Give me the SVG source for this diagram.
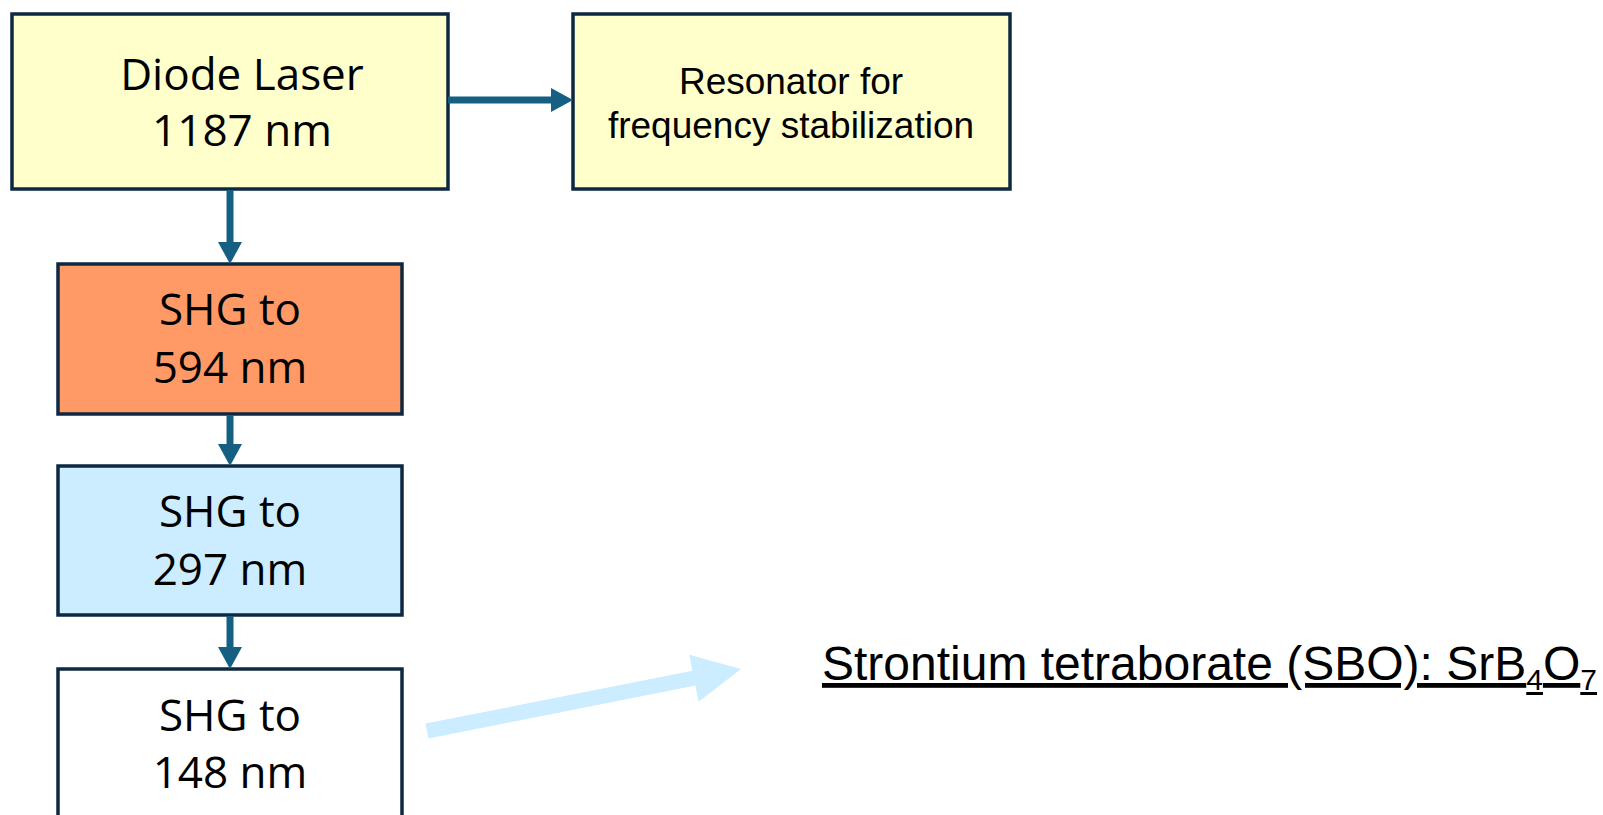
<svg xmlns="http://www.w3.org/2000/svg" width="1603" height="815" viewBox="0 0 1603 815">
<style>
.box{stroke:#0E2841;stroke-width:3.5}
.t{font-family:"Open Sans","Noto Sans",sans-serif;font-size:44px;fill:#000;text-anchor:middle}
.r{font-family:"Liberation Sans",Arial,sans-serif;font-size:37px;fill:#000;text-anchor:middle}
.conn{stroke:#156082;stroke-width:7;fill:none}
</style>
<defs>
<marker id="ah" markerUnits="userSpaceOnUse" viewBox="0 0 22 24" refX="0" refY="12" markerWidth="22" markerHeight="24" orient="auto">
<path d="M0,0 L22,12 L0,24 z" fill="#156082"/>
</marker>
</defs>
<rect width="1603" height="815" fill="#fff"/>
<g id="diode">
<rect class="box" x="12" y="14" width="436" height="175" fill="#FFFFCC"/>
<text class="t" x="242" y="90">Diode Laser</text>
<text class="t" x="242" y="146">1187 nm</text>
</g>
<g id="resonator">
<rect class="box" x="573" y="14" width="437" height="175" fill="#FFFFCC"/>
<text class="r" x="791" y="94">Resonator for</text>
<text class="r" x="791" y="138">frequency stabilization</text>
</g>
<g id="shg594">
<rect class="box" x="58" y="264" width="344" height="150" fill="#FF9966"/>
<text class="t" x="230" y="325">SHG to</text>
<text class="t" x="230" y="383">594 nm</text>
</g>
<g id="shg297">
<rect class="box" x="58" y="466" width="344" height="149" fill="#CCECFF"/>
<text class="t" x="230" y="527">SHG to</text>
<text class="t" x="230" y="585">297 nm</text>
</g>
<g id="shg148">
<rect class="box" x="58" y="669" width="344" height="200" fill="#FFFFFF"/>
<text class="t" x="230" y="731">SHG to</text>
<text class="t" x="230" y="788">148 nm</text>
</g>
<g id="connectors">
<line class="conn" x1="448" y1="100" x2="551" y2="100" marker-end="url(#ah)"/>
<line class="conn" x1="230" y1="190" x2="230" y2="242" marker-end="url(#ah)"/>
<line class="conn" x1="230" y1="415" x2="230" y2="444" marker-end="url(#ah)"/>
<line class="conn" x1="230" y1="616" x2="230" y2="647" marker-end="url(#ah)"/>
<polygon points="425.5,723.6 692.4,670.8 689.2,654.7 741,669 698.6,701.7 695.4,685.6 428.5,738.4" fill="#CCECFF"/>
</g>
<g id="sbo">
<text x="822" y="680" font-family="Liberation Sans, Arial, sans-serif" font-size="48" fill="#000" text-decoration="underline">Strontium tetraborate (SBO): SrB<tspan font-size="30" dy="10">4</tspan><tspan dy="-10">O</tspan><tspan font-size="30" dy="10">7</tspan></text>
</g>
</svg>
